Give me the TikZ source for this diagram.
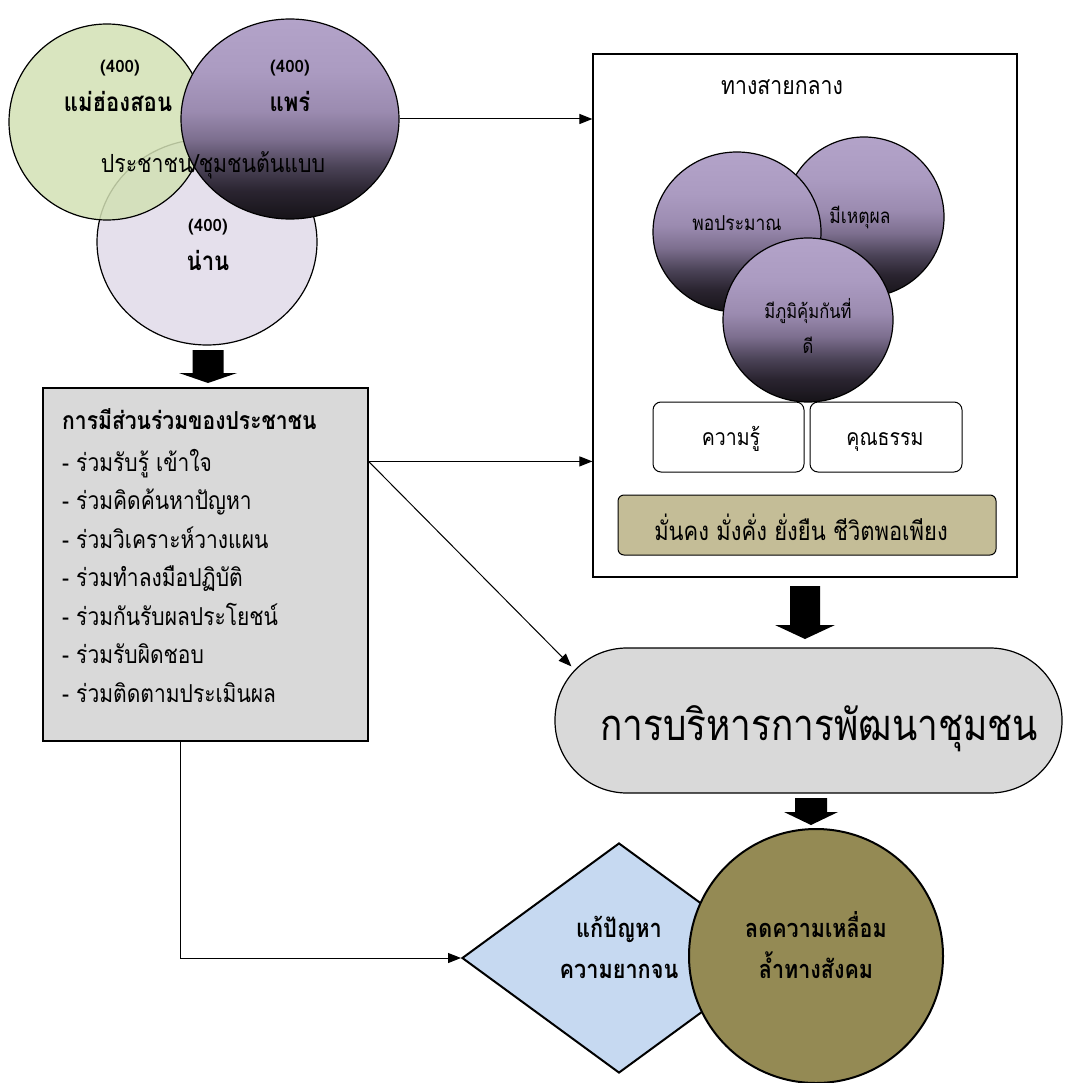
\documentclass[tikz,border=0pt]{standalone}
\usepackage{fontspec}
\setmainfont[Script=Thai,FakeStretch=0.85]{Loma}
\newfontfamily\plainloma[Script=Thai]{Loma}
\usetikzlibrary{shapes.geometric,arrows.meta,calc}
\definecolor{vgreen}{HTML}{D2E0B4}
\definecolor{vlav}{HTML}{E5E0EC}
\definecolor{vp1}{HTML}{161318}
\definecolor{vp2}{HTML}{2A2430}
\definecolor{vp3}{HTML}{4A4256}
\definecolor{vp4}{HTML}{7D6F8F}
\definecolor{vp5}{HTML}{9B8BB0}
\definecolor{vp6}{HTML}{AB9BC1}
\definecolor{vp7}{HTML}{B3A3C9}
\definecolor{boxgray}{HTML}{D9D9D9}
\definecolor{tanbox}{HTML}{C4BD97}
\definecolor{lblue}{HTML}{C6D9F1}
\definecolor{olivec}{HTML}{948A54}
\pgfdeclareverticalshading{vennpurple}{100bp}{color(0bp)=(vp1); color(25bp)=(vp1); color(32bp)=(vp2); color(38bp)=(vp3); color(45bp)=(vp4); color(52bp)=(vp5); color(62bp)=(vp6); color(75bp)=(vp7); color(100bp)=(vp7)}
\newcommand\blkarrow[5]{%
  \fill ($(#1)+(-#3,0)$) -- ($(#1)+(#3,0)$) -- ($(#2)+(#3,-#5)$) -- ($(#2)+(#4,-#5)$) -- (#2) -- ($(#2)+(-#4,-#5)$) -- ($(#2)+(-#3,-#5)$) -- cycle;}
\newcommand\fs[1]{\fontsize{#1}{#1}\selectfont}
\tikzset{
  vcirc/.style={draw, line width=1.2pt, inner sep=0pt},
  purp/.style={vcirc, shading=vennpurple},
  conn/.style={line width=1pt, -{Triangle[length=13pt,width=10pt]}},
  txt/.style={anchor=base, inner sep=0pt},
  num/.style={txt, font=\plainloma\fs{17}\bfseries},
  rbox/.style={draw, line width=1pt, rounded corners=8pt, inner sep=0pt},
}
\begin{document}
\begin{tikzpicture}[x=1pt,y=-1pt]
\useasboundingbox (0,0) rectangle (1065,1083);
% Venn
\node[vcirc, ellipse, fill=vlav, minimum width=220pt, minimum height=206pt] (nan) at (207,242) {};
\node[vcirc, circle, fill=vgreen, fill opacity=0.85, minimum size=196pt] (mhs) at (107,122) {};
\node[purp, ellipse, minimum width=218pt, minimum height=200pt] (phrae) at (290,119) {};
\node[num] (n1) at (120,73) {(400)};
\node[txt, font=\fs{26}\bfseries] (t1) at (118,112) {แม่ฮ่องสอน};
\node[num] (n2) at (290,73) {(400)};
\node[txt, font=\fs{26}\bfseries] (t2) at (290,112) {แพร่};
\node[num] (n3) at (208,232) {(400)};
\node[txt, font=\fs{26}\bfseries] (t3) at (208,270) {น่าน};
\node[txt, font=\fs{25}] (proto) at (213,173) {ประชาชน/ชุมชนต้นแบบ};
% left box
\node[draw, line width=1.2pt, fill=boxgray, minimum width=325pt, minimum height=353pt, inner sep=0pt] (pbox) at (205.5,564.5) {};
\node[anchor=base west, inner sep=0pt, font=\fs{24.8}\bfseries] (h0) at (62,429) {การมีส่วนร่วมของประชาชน};
\foreach \t [count=\i] in {ร่วมรับรู้ เข้าใจ, ร่วมคิดค้นหาปัญหา, ร่วมวิเคราะห์วางแผน, ร่วมทำลงมือปฏิบัติ, ร่วมกันรับผลประโยชน์, ร่วมรับผิดชอบ, ร่วมติดตามประเมินผล}
  \node[anchor=base west, inner sep=0pt, font=\fs{24.7}] (h\i) at (62,{471+38.5*(\i-1)}) {- \t};
% right box
\node[draw, line width=1.2pt, fill=white, minimum width=424pt, minimum height=523pt, inner sep=0pt] (mid) at (805,315.5) {};
\node[txt, font=\fs{25}] (midway) at (782,95) {ทางสายกลาง};
\node[purp, circle, minimum size=160pt] (c2) at (864,217) {};
\node[purp, ellipse, minimum width=168pt, minimum height=160pt] (c1) at (737,232) {};
\node[purp, ellipse, minimum width=170pt, minimum height=164pt] (c3) at (808,320) {};
\node[txt, font=\fs{20.5}] (c1t) at (737,230) {พอประมาณ};
\node[txt, font=\fs{20.5}] (c2t) at (860,224) {มีเหตุผล};
\node[txt, font=\fs{19.5}] (c3t) at (808,318) {มีภูมิคุ้มกันที่};
\node[txt, font=\fs{19.5}] (c3u) at (808,353) {ดี};
\node[rbox, fill=white, minimum width=151pt, minimum height=70pt] (know) at (728.5,437) {};
\node[rbox, fill=white, minimum width=152pt, minimum height=70pt] (moral) at (886,437) {};
\node[txt, font=\fs{23}] (knowt) at (731,445) {ความรู้};
\node[txt, font=\fs{23}] (moralt) at (885,445) {คุณธรรม};
\node[rbox, fill=tanbox, rounded corners=6pt, minimum width=378pt, minimum height=60pt] (goal) at (807,525) {};
\node[txt, font=\fs{25.8}] (goalt) at (801,540) {มั่นคง มั่งคั่ง ยั่งยืน ชีวิตพอเพียง};
% management
\node[draw, line width=1.2pt, fill=boxgray, rounded corners=72pt, minimum width=507pt, minimum height=145pt, inner sep=0pt] (mgmt) at (808.5,720.5) {};
\node[txt, font=\fs{43.5}] (mgmtt) at (819,740) {การบริหารการพัฒนาชุมชน};
% bottom
\node[diamond, draw, line width=2pt, fill=lblue, minimum width=314pt, minimum height=230pt, aspect=1.365, inner sep=0pt] (dia) at (619,958) {};
\node[circle, draw, line width=2pt, fill=olivec, minimum size=254pt, inner sep=0pt] (olv) at (816,956) {};
\node[txt, font=\fs{25.5}\bfseries] (d1) at (619,937) {แก้ปัญหา};
\node[txt, font=\fs{25.5}\bfseries] (d2) at (619,978) {ความยากจน};
\node[txt, font=\fs{25.3}\bfseries] (o1) at (816,937) {ลดความเหลื่อม};
\node[txt, font=\fs{25.3}\bfseries] (o2) at (816,978) {ล้ำทางสังคม};
% connectors
\draw[conn] (phrae.east) -- (phrae.east -| mid.west);
\coordinate (pp) at ($(pbox.north east)+(0,74)$);
\draw[conn] (pp) -- (pp -| mid.west);
\draw[conn] (pp) -- ($(mgmt.north west)+(17,19)$);
\draw[conn] ($(pbox.south west)+(138,0)$) |- (dia.west);
% block arrows
\coordinate (a1s) at (208,350);
\coordinate (a1e) at (208,383);
\blkarrow{a1s}{a1e}{15.5}{29}{10}
\coordinate (a2s) at (805,586);
\coordinate (a2e) at (805,639);
\blkarrow{a2s}{a2e}{15}{30}{14}
\coordinate (a3s) at (811,798);
\coordinate (a3e) at (811,825);
\blkarrow{a3s}{a3e}{16}{27}{13}
\end{tikzpicture}
\end{document}
